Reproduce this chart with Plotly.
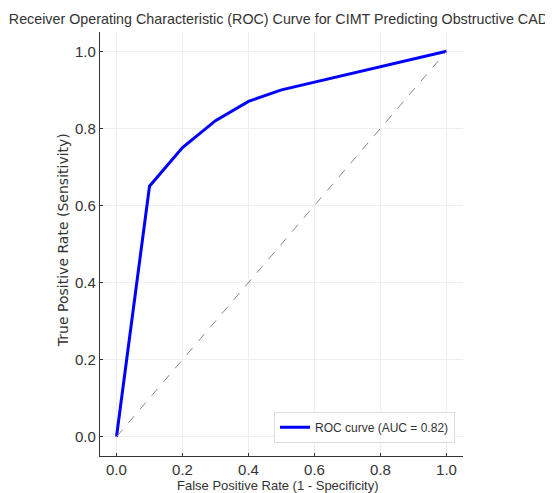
import plotly.graph_objects as go

fpr = [0.0, 0.1, 0.2, 0.3, 0.4, 0.5, 1.0]
tpr = [0.0, 0.65, 0.75, 0.82, 0.87, 0.90, 1.0]
diag_x = [0.0, 1.0]
diag_y = [0.0, 1.0]
tick_vals = [0.0, 0.2, 0.4, 0.6, 0.8, 1.0]
tick_text = ["0.0", "0.2", "0.4", "0.6", "0.8", "1.0"]
auc_label = "ROC curve (AUC = 0.82)"
title_text = "Receiver Operating Characteristic (ROC) Curve for CIMT Predicting Obstructive CAD"
x_title = "False Positive Rate (1 - Specificity)"
y_title = "True Positive Rate (Sensitivity)"

font = "Liberation Sans"
vfont = "DejaVu Sans"
col = "#333333"
fig = go.Figure()
fig.add_trace(go.Scatter(x=fpr, y=tpr, mode="lines", name=auc_label,
                         line=dict(color="#0000ff", width=3)))
fig.add_trace(go.Scatter(x=diag_x, y=diag_y, mode="lines", showlegend=False,
                         line=dict(color="#888888", width=1, dash="dash")))

axis_common = dict(
    tickvals=tick_vals, ticktext=tick_text, range=[-0.05, 1.05],
    showgrid=True, gridcolor="#eeeeee", gridwidth=1,
    showline=True, linecolor=col, linewidth=1.2,
    ticks="inside", ticklen=3, tickcolor=col,
    tickfont=dict(family=font, size=15, color=col),
    zeroline=False, mirror=False, automargin=False,
)
fig.update_xaxes(**axis_common)
fig.update_yaxes(**axis_common)

fig.add_annotation(text=x_title, xref="paper", yref="paper", x=0.49, y=-0.069,
                   xanchor="center", yanchor="middle", showarrow=False,
                   font=dict(family=font, size=13, color=col))
fig.add_annotation(text=y_title, xref="paper", yref="paper", x=-0.102, y=0.509,
                   xanchor="center", yanchor="middle", showarrow=False, textangle=-90,
                   font=dict(family=vfont, size=14, color=col))

fig.update_layout(
    width=553, height=493,
    margin=dict(l=92, r=98, t=24, b=45),
    paper_bgcolor="white", plot_bgcolor="white",
    title=dict(text=title_text, x=0.489, xanchor="center", y=0.978, yanchor="middle",
               font=dict(family=font, size=14.3, color=col)),
    legend=dict(x=0.978, y=0.031, xanchor="right", yanchor="bottom",
                itemwidth=30,
                bgcolor="rgba(255,255,255,0.9)", bordercolor="#dddddd", borderwidth=1,
                font=dict(family=font, size=12, color=col)),
    showlegend=True,
)
fig.write_html("out.html")
